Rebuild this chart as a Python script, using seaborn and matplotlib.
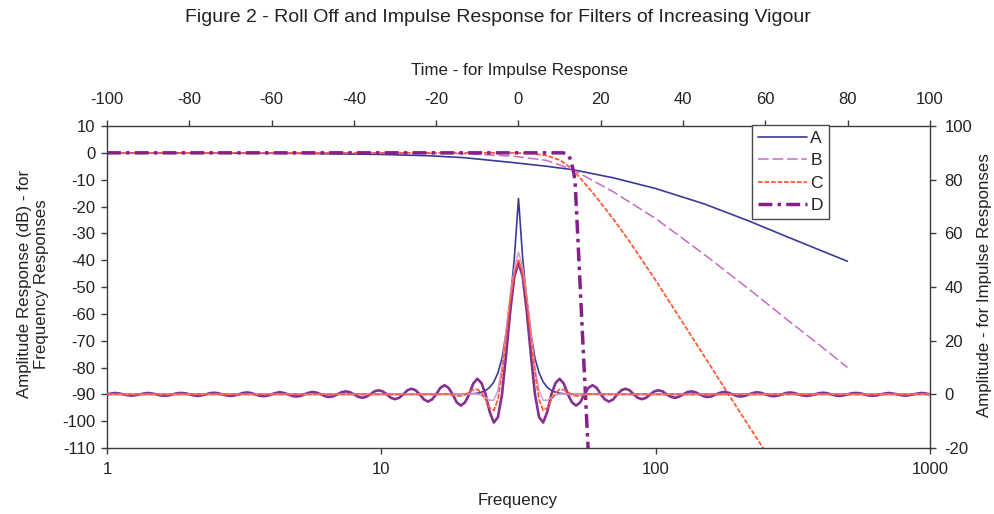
import numpy as np
import matplotlib
matplotlib.use("Agg")
import matplotlib.pyplot as plt
from matplotlib.ticker import NullLocator
from matplotlib.lines import Line2D
import seaborn as sns

# ---------------- frequency responses (dB, bottom/left axes) ----------------
freq_A = [1, 2, 5, 10, 15, 20, 30, 40, 50, 70, 100, 150, 220, 300, 400, 500]
db_A = [0, -0.05, -0.2, -0.6, -1.1, -1.8, -3.6, -5.0, -6.3, -9.3, -13.3, -19.0,
        -25.5, -31.2, -36.4, -40.4]

freq_B = [1, 10, 20, 30, 40, 50, 70, 100, 150, 220, 300, 400, 500]
db_B = [0, 0, -0.3, -1.2, -2.8, -6.3, -14.5, -24.5, -37.8, -51.0, -62.0, -72.0, -80.0]

freq_C = [1, 10, 30, 35, 40, 45, 50, 60, 70, 80, 100, 130, 160, 200, 250]
db_C = [0, 0, 0, -0.2, -1.0, -2.8, -6.3, -15.8, -24.6, -32.8, -47.5, -65.7,
        -80.1, -95.7, -111.0]

freq_D = [1, 40, 46, 47.8, 49, 50, 50.8, 52, 54, 56.7, 58]
db_D = [0, 0, 0, -0.5, -2.5, -6.3, -10.0, -31.0, -66.0, -110.0, -125.0]

# ---------------- impulse responses (top/right axes) ----------------
time_A = [-100, -15, -12, -10, -9, -8, -7, -6, -5, -4, -3, -2, -1.5, -1, -0.5, 0,
          0.5, 1, 1.5, 2, 3, 4, 5, 6, 7, 8, 9, 10, 12, 15, 100]
imp_A = [0, 0, 0.1, 0.4, 0.8, 1.4, 2.6, 4.6, 8.0, 13.5, 23.0, 35.5, 43.0, 51.0, 62.0, 73.0,
         62.0, 51.0, 43.0, 35.5, 23.0, 13.5, 8.0, 4.6, 2.6, 1.4, 0.8, 0.4, 0.1, 0, 0]

time_B = [-100, -14, -13, -12, -11, -10, -9, -8, -7, -6, -5, -4, -3, -2, -1, 0,
          1, 2, 3, 4, 5, 6, 7, 8, 9, 10, 11, 12, 13, 14, 100]
imp_B = [0, 0, 0, 0.1, 0.2, 0.1, -0.4, -1.2, -2.2, -2.2, 1.5, 10.0, 24.0, 37.0, 47.0, 53.0,
         47.0, 37.0, 24.0, 10.0, 1.5, -2.2, -2.2, -1.2, -0.4, 0.1, 0.2, 0.1, 0, 0, 0]

time_C = [-100, -20, -19, -18, -17, -16, -15, -14, -13, -12, -11, -10, -9, -8, -7, -6,
          -5, -4, -3, -2, -1, 0, 1, 2, 3, 4, 5, 6, 7, 8, 9, 10, 11, 12, 13, 14, 15,
          16, 17, 18, 19, 20, 100]
imp_C = [0, 0, 0.1, 0.2, 0.1, -0.2, -0.5, -0.6, -0.2, 0.8, 1.7, 1.9, 0.5, -2.0, -5.0, -6.0,
         -2.0, 8.0, 21.0, 35.0, 45.0, 50.0, 45.0, 35.0, 21.0, 8.0, -2.0, -6.0, -5.0, -2.0,
         0.5, 1.9, 1.7, 0.8, -0.2, -0.6, -0.5, -0.2, 0.1, 0.2, 0.1, 0, 0]

time_D = np.arange(-100, 101)
imp_D = [
    0, 0.3, 0.5, 0.3, 0, -0.3, -0.5, -0.3,
    0, 0.3, 0.5, 0.3, 0, -0.4, -0.5, -0.4,
    0, 0.4, 0.5, 0.4, 0, -0.4, -0.6, -0.4,
    0, 0.4, 0.6, 0.4, 0, -0.4, -0.6, -0.4,
    0, 0.5, 0.7, 0.5, 0, -0.5, -0.7, -0.5,
    0, 0.5, 0.8, 0.5, 0, -0.6, -0.8, -0.6,
    0, 0.6, 0.9, 0.6, 0, -0.7, -1.0, -0.7,
    0, 0.8, 1.1, 0.8, 0, -0.9, -1.3, -0.9,
    0, 1.1, 1.5, 1.1, 0, -1.3, -1.8, -1.3,
    0, 1.5, 2.1, 1.5, 0, -1.9, -2.7, -1.9,
    0, 2.4, 3.4, 2.4, 0, -3.0, -4.2, -3.0,
    0, 4.0, 5.8, 4.2, 0, -6.5, -10.5, -8.5,
    0, 15.0, 31.0, 44.0,
    49.0,
    44.0, 31.0, 15.0, 0,
    -8.5, -10.5, -6.5, 0, 4.2, 5.8, 4.0, 0,
    -3.0, -4.2, -3.0, 0, 2.4, 3.4, 2.4, 0,
    -1.9, -2.7, -1.9, 0, 1.5, 2.1, 1.5, 0,
    -1.3, -1.8, -1.3, 0, 1.1, 1.5, 1.1, 0,
    -0.9, -1.3, -0.9, 0, 0.8, 1.1, 0.8, 0,
    -0.7, -1.0, -0.7, 0, 0.6, 0.9, 0.6, 0,
    -0.6, -0.8, -0.6, 0, 0.5, 0.8, 0.5, 0,
    -0.5, -0.7, -0.5, 0, 0.5, 0.7, 0.5, 0,
    -0.4, -0.6, -0.4, 0, 0.4, 0.6, 0.4, 0,
    -0.4, -0.6, -0.4, 0, 0.4, 0.5, 0.4, 0,
    -0.4, -0.5, -0.4, 0, 0.3, 0.5, 0.3, 0,
    -0.3, -0.5, -0.3, 0, 0.3, 0.5, 0.3, 0,
]

series_names = ["A", "B", "C", "D"]

freq_ticks = [1, 10, 100, 1000]
freq_tick_labels = ["1", "10", "100", "1000"]
db_ticks = [10, 0, -10, -20, -30, -40, -50, -60, -70, -80, -90, -100, -110]
time_ticks = [-100, -80, -60, -40, -20, 0, 20, 40, 60, 80, 100]
amp_ticks = [-20, 0, 20, 40, 60, 80, 100]

# ---------------- styling ----------------
colors = {"A": "#3a3a96", "B": "#c46cc4", "C": "#ff5a36", "D": "#85208a"}
imp_colors = {"A": "#3a3a96", "B": "#d89ad8", "C": "#ff5a3c", "D": "#85308f"}
styles = {"A": "-", "B": (0, (7, 2.5)), "C": (0, (2.6, 1.0)), "D": (0, (4, 1.5, 1, 1.5))}
widths = {"A": 1.2, "B": 1.1, "C": 1.3, "D": 2.5}

sns.set_theme(style="ticks")
plt.rcParams["font.family"] = ["Liberation Sans", "DejaVu Sans"]
text_color = "#222222"
spine_color = "#3c3c3c"
tick_size = 12
label_size = 12.2

fig = plt.figure(figsize=(9.95, 5.14), dpi=100)
rect = [107 / 995, 1 - 448 / 514, 823 / 995, 322 / 514]

# frequency axes (bottom / left)
ax = fig.add_axes(rect)
ax.set_xscale("log")
freq_data = {"A": (freq_A, db_A), "B": (freq_B, db_B), "C": (freq_C, db_C), "D": (freq_D, db_D)}
for name in series_names:
    fx, fy = freq_data[name]
    sns.lineplot(x=fx, y=fy, ax=ax, color=colors[name], linestyle=styles[name],
                 linewidth=widths[name], estimator=None, sort=False, legend=False)
ax.set_xlim(1, 1000)
ax.set_ylim(-110, 10)
ax.set_xticks(freq_ticks)
ax.set_xticklabels(freq_tick_labels)
ax.xaxis.set_minor_locator(NullLocator())
ax.set_yticks(db_ticks)
ax.set_yticklabels([str(v) for v in db_ticks])
ax.tick_params(axis="x", direction="out", length=4.5, width=1, pad=5.5,
               labelsize=tick_size, colors=spine_color, labelcolor=text_color)
ax.tick_params(axis="y", direction="out", length=4.5, width=1, pad=4,
               labelsize=tick_size, colors=spine_color, labelcolor=text_color)
for side in ["left", "bottom"]:
    ax.spines[side].set_color(spine_color)
    ax.spines[side].set_linewidth(1)
for side in ["top", "right"]:
    ax.spines[side].set_visible(False)
ax.set_facecolor("white")

ax.set_xlabel("Frequency", fontsize=label_size, color=text_color)
ax.xaxis.set_label_coords(0.499, -0.162)
ax.xaxis.label.set_va("center")
ax.set_ylabel("Amplitude Response (dB) - for\nFrequency Responses", fontsize=label_size,
              color=text_color, multialignment="center")
ax.yaxis.set_label_coords(-0.09, 0.51)
ax.yaxis.label.set_va("center")

# impulse axes (top / right), overlaid on the same area
ax_t = fig.add_axes(rect, facecolor="none")
imp_data = {"A": (time_A, imp_A), "B": (time_B, imp_B), "C": (time_C, imp_C), "D": (time_D, imp_D)}
imp_styles = {"A": "-", "B": "-", "C": (0, (3.0, 0.8)), "D": "-"}
imp_widths = {"A": 1.2, "B": 1.1, "C": 1.3, "D": 1.9}
for name in ["A", "D", "B", "C"]:
    tx, ty = imp_data[name]
    sns.lineplot(x=tx, y=ty, ax=ax_t, color=imp_colors[name], linestyle=imp_styles[name],
                 linewidth=imp_widths[name], estimator=None, sort=False, legend=False)
ax_t.set_xlim(-100, 100)
ax_t.set_ylim(-20, 100)
ax_t.xaxis.tick_top()
ax_t.xaxis.set_label_position("top")
ax_t.yaxis.tick_right()
ax_t.yaxis.set_label_position("right")
ax_t.set_xticks(time_ticks)
ax_t.set_xticklabels([str(v) for v in time_ticks])
ax_t.set_yticks(amp_ticks)
ax_t.set_yticklabels([str(v) for v in amp_ticks])
ax_t.tick_params(axis="x", direction="out", length=4.5, width=1, pad=9,
                 labelsize=tick_size, colors=spine_color, labelcolor=text_color)
ax_t.tick_params(axis="y", direction="out", length=4.5, width=1, pad=6,
                 labelsize=tick_size, colors=spine_color, labelcolor=text_color)
for side in ["top", "right"]:
    ax_t.spines[side].set_color(spine_color)
    ax_t.spines[side].set_linewidth(1)
for side in ["left", "bottom"]:
    ax_t.spines[side].set_visible(False)

ax_t.set_xlabel("Time - for Impulse Response", fontsize=label_size, color=text_color)
ax_t.xaxis.set_label_coords(0.501, 1.172)
ax_t.xaxis.label.set_va("center")
ax_t.set_ylabel("Amplitude - for Impulse Responses", fontsize=label_size, color=text_color)
ax_t.yaxis.set_label_coords(1.0668, 0.506)
ax_t.yaxis.label.set_va("center")

handles = [Line2D([], [], color=colors[n], linestyle=styles[n], linewidth=widths[n])
           for n in series_names]
leg = ax_t.legend(handles, series_names, loc="upper left", bbox_to_anchor=(0.784, 1.004),
                  frameon=True, fancybox=False, fontsize=12.5, handlelength=2.8,
                  handletextpad=0.2, labelspacing=0.42, borderpad=0.35, borderaxespad=0)
leg.get_frame().set_edgecolor("#4a4a4a")
leg.get_frame().set_linewidth(1)
leg.get_frame().set_facecolor("white")
leg.get_frame().set_alpha(1)
for t in leg.get_texts():
    t.set_color(text_color)

fig.suptitle("Figure 2 - Roll Off and Impulse Response for Filters of Increasing Vigour",
             y=1 - 18 / 514, va="center", fontsize=14, color=text_color)

fig.savefig("out.png", dpi=100, facecolor="white")
